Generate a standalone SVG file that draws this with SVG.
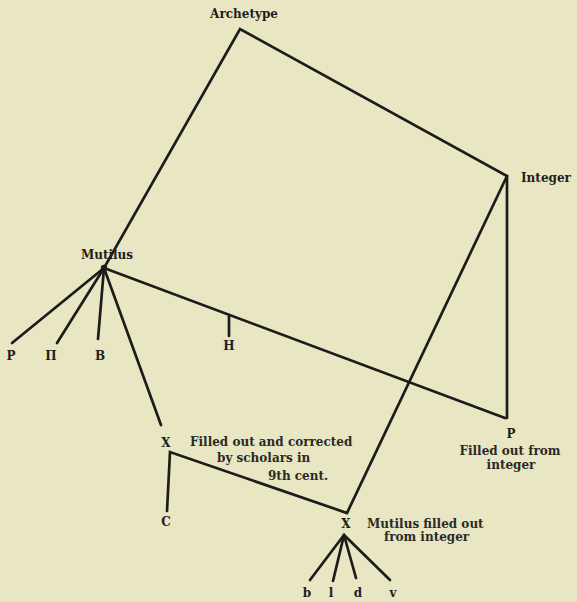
<svg xmlns="http://www.w3.org/2000/svg" width="577" height="602" viewBox="0 0 577 602">
<style>
.bg{fill:#e8e6c3}
.ln{stroke:#1c1c1a;stroke-width:2.7;fill:none;stroke-linecap:round;stroke-linejoin:miter}
.lb{font-family:"DejaVu Serif","Liberation Serif",serif;font-weight:bold;font-size:12px;fill:#1e1e1c}
.an{font-family:"DejaVu Serif","Liberation Serif",serif;font-weight:bold;font-size:12px;fill:#2a2a26}
</style>
<rect class="bg" x="0" y="0" width="577" height="602"/>
<g id="connectors">
<polyline class="ln" points="104,268 240,29 507,176 507,418"/>
<line class="ln" x1="104" y1="268" x2="505" y2="418"/>
<line class="ln" x1="104" y1="268" x2="12" y2="343"/>
<line class="ln" x1="104" y1="268" x2="57" y2="343"/>
<line class="ln" x1="104" y1="268" x2="98" y2="339"/>
<line class="ln" x1="104" y1="268" x2="161" y2="425"/>
<line class="ln" x1="229" y1="315" x2="229" y2="336"/>
<polyline class="ln" points="167,511 170,452 347,513 507,176"/>
<line class="ln" x1="344" y1="535" x2="310" y2="580"/>
<line class="ln" x1="344" y1="535" x2="333" y2="581"/>
<line class="ln" x1="344" y1="535" x2="356" y2="578"/>
<line class="ln" x1="344" y1="535" x2="390" y2="580"/>
<circle cx="104" cy="268" r="3.2" fill="#1c1c1a"/>
</g>
<g id="archetype"><text class="lb" x="244" y="18" text-anchor="middle">Archetype</text></g>
<g id="integer"><text class="lb" x="521" y="182">Integer</text></g>
<g id="mutilus"><text class="lb" x="107" y="259" text-anchor="middle">Mutilus</text></g>
<g id="P"><text class="lb" x="11" y="360" text-anchor="middle">P</text></g>
<g id="Pi"><text class="lb" x="51" y="360" text-anchor="middle">Π</text></g>
<g id="B"><text class="lb" x="100" y="360" text-anchor="middle">B</text></g>
<g id="H"><text class="lb" x="229" y="350" text-anchor="middle">H</text></g>
<g id="X1">
<text class="lb" x="166" y="447" text-anchor="middle">X</text>
<text class="an" x="190" y="446">Filled out and corrected</text>
<text class="an" x="217" y="462">by scholars in</text>
<text class="an" x="268" y="480">9th cent.</text>
</g>
<g id="P2">
<text class="lb" x="511" y="438" text-anchor="middle">P</text>
<text class="an" x="510" y="455" text-anchor="middle">Filled out from</text>
<text class="an" x="511" y="469" text-anchor="middle">integer</text>
</g>
<g id="C"><text class="lb" x="166" y="526" text-anchor="middle">C</text></g>
<g id="X2">
<text class="lb" x="346" y="528" text-anchor="middle">X</text>
<text class="an" x="367" y="528">Mutilus filled out</text>
<text class="an" x="384" y="541">from integer</text>
</g>
<g id="b"><text class="lb" x="307" y="597" text-anchor="middle">b</text></g>
<g id="l"><text class="lb" x="331" y="597" text-anchor="middle">l</text></g>
<g id="d"><text class="lb" x="358" y="597" text-anchor="middle">d</text></g>
<g id="v"><text class="lb" x="393" y="597" text-anchor="middle">v</text></g>
</svg>
